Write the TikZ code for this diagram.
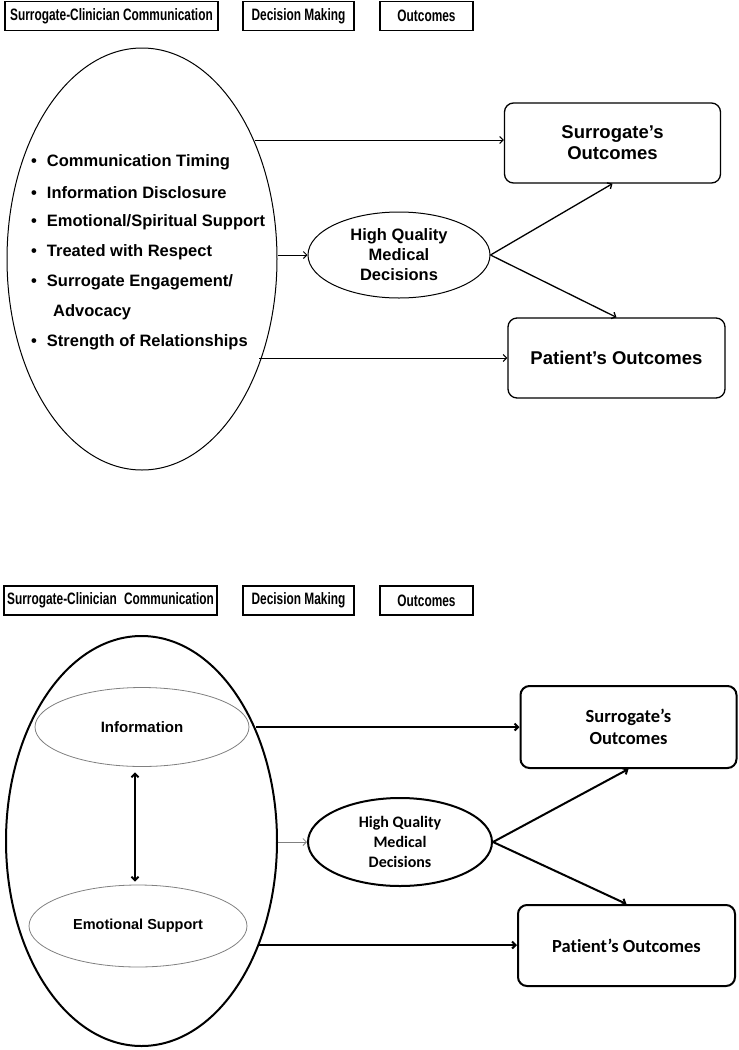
\documentclass[tikz,border=0pt]{standalone}
\usepackage{fontspec}
\setmainfont{Liberation Sans}
\newfontfamily\calib[Ligatures=NoCommon]{Carlito}
\newfontfamily\narrow[FakeStretch=0.72]{Liberation Sans}
\usetikzlibrary{shapes.geometric,arrows.meta}

\begin{document}
\begin{tikzpicture}[x=1pt, y=-1pt, >={Straight Barb[length=3.5pt,width=7pt]},
  every node/.style={font=\bfseries},
  hdr/.style={draw, line width=1.1pt, minimum height=29pt, inner sep=0pt,
    font=\narrow\fontsize{16.5}{18}\bfseries\selectfont},
  blob/.style={draw, ellipse, inner sep=0pt},
  outbox/.style={draw, rounded corners=9pt, minimum width=216pt, minimum height=80pt,
    inner sep=0pt, align=center},
  item/.style={anchor=west, inner sep=0pt, font=\fontsize{16.5}{18}\bfseries\selectfont}]
  \useasboundingbox (0,0) rectangle (739,1050);

  % upper panel
  \node[hdr, minimum width=213pt] (h1) at (111.5,16) {Surrogate-Clinician Communication};
  \node[hdr, minimum width=111pt] (h2) at (298.5,16) {Decision Making};
  \node[hdr, minimum width=93pt]  (h3) at (426.5,16) {Outcomes};

  \node[blob, line width=1pt, minimum width=270pt, minimum height=422pt] (big1) at (142,259) {};
  \node[item] (b1) at (31,162) {\textbullet\hspace{10pt}Communication Timing};
  \node[item] (b2) at (31,193) {\textbullet\hspace{10pt}Information Disclosure};
  \node[item] (b3) at (31,222) {\textbullet\hspace{10pt}Emotional/Spiritual Support};
  \node[item] (b4) at (31,252) {\textbullet\hspace{10pt}Treated with Respect};
  \node[item] (b5) at (31,282) {\textbullet\hspace{10pt}Surrogate Engagement/};
  \node[item] (b6) at (53,312) {Advocacy};
  \node[item] (b7) at (31,342) {\textbullet\hspace{10pt}Strength of Relationships};

  \node[blob, line width=1pt, minimum width=182pt, minimum height=86pt, align=center,
    font=\fontsize{16.5}{20}\bfseries\selectfont] (dm1) at (399,255)
    {High Quality\\Medical\\Decisions};
  \node[outbox, line width=1.3pt, font=\fontsize{18.5}{21}\bfseries\selectfont] (so1) at (612.5,143)
    {Surrogate’s\\Outcomes};
  \node[outbox, line width=1.3pt, minimum width=217pt, font=\fontsize{18.5}{21}\bfseries\selectfont] (po1) at (616.5,358)
    {Patient’s Outcomes};

  \coordinate (t1) at (255,140);
  \coordinate (t2) at (259,358);
  \draw[->, line width=1pt] (t1) -- (t1 -| so1.west);
  \draw[->, line width=1pt] (t2) -- (t2 -| po1.west);
  \draw[->, line width=1pt] (dm1.west -| big1.east) -- (dm1.west);
  \draw[->, line width=1.3pt] (dm1.east) -- (so1.south);
  \draw[->, line width=1.3pt] (dm1.east) -- (po1.north);

  % lower panel
  \node[hdr, minimum width=213pt] (h4) at (110.5,600.5) {Surrogate-Clinician\hspace{4pt} Communication};
  \node[hdr, minimum width=111pt] (h5) at (298.5,600.5) {Decision Making};
  \node[hdr, minimum width=93pt]  (h6) at (426.5,600.5) {Outcomes};

  \node[blob, line width=2pt, minimum width=271pt, minimum height=410pt] (big2) at (141.5,841) {};
  \node[blob, draw=gray, line width=0.8pt, minimum width=214pt, minimum height=79pt,
    font=\fontsize{15}{18}\bfseries\selectfont] (inf) at (142,727) {Information};
  \node[blob, draw=gray, line width=0.8pt, minimum width=218pt, minimum height=82pt,
    font=\fontsize{14.5}{18}\bfseries\selectfont] (emo) at (138,926) {Emotional Support};
  \draw[<->, line width=2pt] ([xshift=-7pt,yshift=-5.5pt]inf.south) -- ([xshift=-3pt,yshift=3pt]emo.north);

  \node[blob, line width=2pt, minimum width=184pt, minimum height=88pt, align=center,
    font=\calib\fontsize{16}{20}\bfseries\selectfont] (dm2) at (400,842)
    {High Quality\\Medical\\Decisions};
  \node[outbox, line width=2pt, minimum height=82pt, font=\calib\fontsize{18.5}{22}\bfseries\selectfont] (so2) at (628.5,727)
    {Surrogate’s\\Outcomes};
  \node[outbox, line width=2pt, minimum width=217pt, minimum height=81pt, font=\calib\fontsize{18.5}{22}\bfseries\selectfont] (po2) at (626.5,945.5)
    {Patient’s Outcomes};

  \coordinate (t3) at (256,727);
  \coordinate (t4) at (258,945);
  \draw[->, line width=2pt] (t3) -- (t3 -| so2.west);
  \draw[->, line width=2pt] (t4) -- (t4 -| po2.west);
  \draw[->, draw=gray, line width=0.8pt] (dm2.west -| big2.east) -- (dm2.west);
  \draw[->, line width=2pt] (dm2.east) -- (so2.south);
  \draw[->, line width=2pt] (dm2.east) -- (po2.north);
\end{tikzpicture}
\end{document}
